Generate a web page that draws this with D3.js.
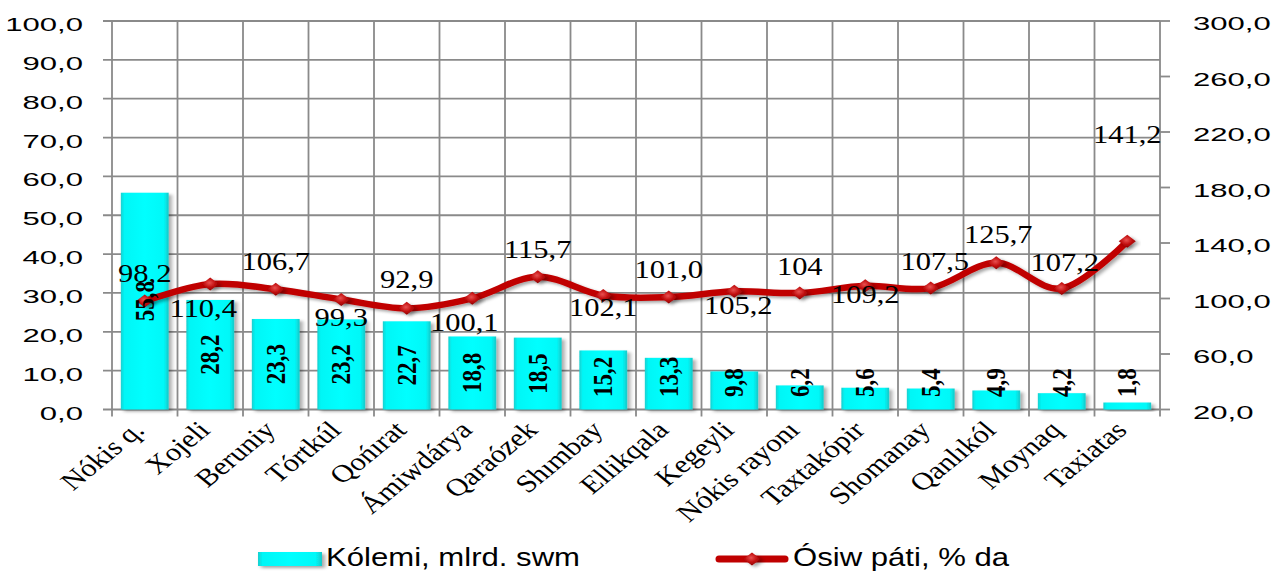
<!DOCTYPE html>
<html><head><meta charset="utf-8">
<script src="https://cdn.jsdelivr.net/npm/d3@7"></script>
<style>html,body{margin:0;padding:0;background:#fff;} svg{display:block;}</style>
</head><body><svg id="chart" width="1274" height="572"></svg>
<script>
// ---------- data ----------
const categories = ["Nókis q.", "Xojeli", "Beruniy", "Tórtkúl", "Qońırat", "Ámiwdárya", "Qaraózek", "Shımbay", "Ellikqala", "Kegeyli", "Nókis rayonı", "Taxtakópir", "Shomanay", "Qanlıkól", "Moynaq", "Taxiatas"];
const volumeName = "Kólemi, mlrd. swm";
const volume = [55.8, 28.2, 23.3, 23.2, 22.7, 18.8, 18.5, 15.2, 13.3, 9.8, 6.2, 5.6, 5.4, 4.9, 4.2, 1.8];
const growthName = "Ósiw páti, % da";
const growth = [98.2, 110.4, 106.7, 99.3, 92.9, 100.1, 115.7, 102.1, 101.0, 105.2, 104, 109.2, 107.5, 125.7, 107.2, 141.2];
const growthLabels = ["98,2", "110,4", "106,7", "99,3", "92,9", "100,1", "115,7", "102,1", "101,0", "105,2", "104", "109,2", "107,5", "125,7", "107,2", "141,2"];
const leftTicks = [0, 10, 20, 30, 40, 50, 60, 70, 80, 90, 100];
const rightTicks = [20, 60, 100, 140, 180, 220, 260, 300];

// ---------- layout ----------
const S = 1.22;                 // horizontal stretch of the whole picture
const P = {left: 112 / S, right: 1160 / S, top: 21, bottom: 409.5};
const labelDy = [-27, 25, -27, 18, -29, 24, -27, 12, -27, 14, -26, 9, -26, -28, -26, -107];
const labelDx = [0, -7, 0, 0, 0, -8, 0, 0, 0, 4, 0, 0, 4, 2, 3, 0];
const GRID = "#8a8a8a";
const fmt = v => v.toFixed(1).replace(".", ",");

const svg = d3.select("#chart");
const defs = svg.append("defs");
const bg = defs.append("linearGradient").attr("id", "barGrad").attr("x1", 0).attr("x2", 1).attr("y1", 0).attr("y2", 0);
[[0, "#19cfcf"], [0.07, "#00f6f6"], [0.5, "#00ffff"], [0.9, "#00f8f8"], [1, "#16c8c8"]]
  .forEach(([o, c]) => bg.append("stop").attr("offset", o).attr("stop-color", c));
const mg = defs.append("radialGradient").attr("id", "mkGrad").attr("cx", "45%").attr("cy", "40%").attr("r", "60%");
[[0, "#e85050"], [0.55, "#c21010"], [1, "#8c0000"]]
  .forEach(([o, c]) => mg.append("stop").attr("offset", o).attr("stop-color", c));
const sh = defs.append("filter").attr("id", "shadow").attr("x", "-20%").attr("y", "-20%").attr("width", "150%").attr("height", "150%");
sh.append("feDropShadow").attr("dx", 2.5).attr("dy", 2).attr("stdDeviation", 1.6).attr("flood-color", "#000").attr("flood-opacity", 0.35);

const g = svg.append("g").attr("transform", `scale(${S},1)`);

const x = d3.scaleBand().domain(categories).range([P.left, P.right]).paddingInner(0.27).paddingOuter(0.135);
const step = x.step();
const cx = c => x(c) + x.bandwidth() / 2;
const yL = d3.scaleLinear().domain([0, 100]).range([P.bottom, P.top]);
const yR = d3.scaleLinear().domain([20, 300]).range([P.bottom, P.top]);

// grid (horizontal, with left tick extension)
g.append("g").selectAll("line").data(leftTicks).join("line")
  .attr("x1", P.left - 9 / S).attr("x2", P.right)
  .attr("y1", d => yL(d)).attr("y2", d => yL(d))
  .attr("stroke", GRID).attr("stroke-width", 1.8).attr("vector-effect", "non-scaling-stroke");
// vertical category boundaries with tick extension below
const bounds = categories.map(c => x(c) - (step - x.bandwidth()) / 2).concat([P.right]);
g.append("g").selectAll("line").data(bounds).join("line")
  .attr("x1", d => d).attr("x2", d => d)
  .attr("y1", P.top).attr("y2", P.bottom + 7)
  .attr("stroke", GRID).attr("stroke-width", 1.8).attr("vector-effect", "non-scaling-stroke");
// right ticks
g.append("g").selectAll("line").data(rightTicks).join("line")
  .attr("x1", P.right).attr("x2", P.right + 10 / S)
  .attr("y1", d => yR(d)).attr("y2", d => yR(d))
  .attr("stroke", GRID).attr("stroke-width", 1.8).attr("vector-effect", "non-scaling-stroke");

// tick labels
const TS = 1.34;
g.append("g").selectAll("text").data(leftTicks).join("text")
  .attr("transform", d => `translate(${83 / S},${yL(d) + 10}) scale(${TS},1)`)
  .attr("text-anchor", "end").attr("font-family", "Liberation Sans, Arial, sans-serif")
  .attr("font-size", 19).attr("fill", "#000").text(d => fmt(d));
g.append("g").selectAll("text").data(rightTicks).join("text")
  .attr("transform", d => `translate(${1193 / S},${yR(d) + 9}) scale(${TS},1)`)
  .attr("text-anchor", "start").attr("font-family", "Liberation Sans, Arial, sans-serif")
  .attr("font-size", 19).attr("fill", "#000").text(d => fmt(d));

// bars
g.append("g").selectAll("rect").data(volume).join("rect")
  .attr("x", (d, i) => x(categories[i])).attr("width", x.bandwidth())
  .attr("y", d => yL(d)).attr("height", d => P.bottom - yL(d))
  .attr("fill", "url(#barGrad)").attr("filter", "url(#shadow)");

// line
const line = d3.line().x((d, i) => cx(categories[i])).y(d => yR(d)).curve(d3.curveCardinal.tension(0));
g.append("path").datum(growth).attr("d", line)
  .attr("fill", "none").attr("stroke", "#c00000").attr("stroke-width", 6.5)
  .attr("stroke-linejoin", "round").attr("vector-effect", "non-scaling-stroke").attr("filter", "url(#shadow)");
const diamond = (hw, hh) => `M0,${-hh}L${hw},0L0,${hh}L${-hw},0Z`;
g.append("g").selectAll("path").data(growth).join("path")
  .attr("transform", (d, i) => `translate(${cx(categories[i])},${yR(d)})`)
  .attr("d", diamond(7, 6.5)).attr("fill", "url(#mkGrad)").attr("filter", "url(#shadow)");

// bar labels
g.append("g").selectAll("text").data(volume).join("text")
  .attr("font-family", "Liberation Serif, Times New Roman, serif").attr("font-weight", "bold")
  .attr("font-size", 23).attr("text-anchor", "middle").attr("fill", "#000")
  .text(d => fmt(d))
  .each(function (d, i) {
    const len = this.getComputedTextLength();
    const yc = Math.min((yL(d) + P.bottom) / 2, P.bottom - 12.5 - len / 2);
    const xc = cx(categories[i]) + 7.5;
    d3.select(this).attr("transform", `translate(${xc},${yc}) rotate(-90)`);
  });

// line labels
g.append("g").selectAll("text").data(growth).join("text")
  .attr("x", (d, i) => cx(categories[i]) + labelDx[i] / S)
  .attr("y", (d, i) => yR(d) + labelDy[i] + 8.3)
  .attr("text-anchor", "middle").attr("font-family", "Liberation Serif, Times New Roman, serif")
  .attr("font-size", 25).attr("fill", "#000")
  .text((d, i) => growthLabels[i]);

// category labels
g.append("g").selectAll("text").data(categories).join("text")
  .attr("transform", c => `translate(${cx(c) + 1},${P.bottom + 22}) rotate(-45)`)
  .attr("text-anchor", "end").attr("font-family", "Liberation Serif, Times New Roman, serif")
  .attr("font-size", 25).attr("fill", "#000").text(c => c);

// legend
const lg = g.append("g");
lg.append("rect").attr("x", 258 / S).attr("y", 552).attr("width", 64 / S).attr("height", 14)
  .attr("fill", "url(#barGrad)").attr("filter", "url(#shadow)");
lg.append("text").attr("x", 326 / S).attr("y", 566).attr("font-family", "Liberation Sans, Arial, sans-serif")
  .attr("font-size", 25.5).attr("fill", "#000").text(volumeName);
lg.append("line").attr("x1", 719 / S).attr("x2", 785 / S).attr("y1", 559).attr("y2", 559)
  .attr("stroke", "#c00000").attr("stroke-width", 7).attr("stroke-linecap", "round")
  .attr("vector-effect", "non-scaling-stroke");
lg.append("path").attr("transform", `translate(${752 / S},559)`).attr("d", diamond(7, 6.5))
  .attr("fill", "url(#mkGrad)").attr("filter", "url(#shadow)");
lg.append("text").attr("x", 793 / S).attr("y", 566).attr("font-family", "Liberation Sans, Arial, sans-serif")
  .attr("font-size", 25.5).attr("fill", "#000").text(growthName);
</script></body></html>
